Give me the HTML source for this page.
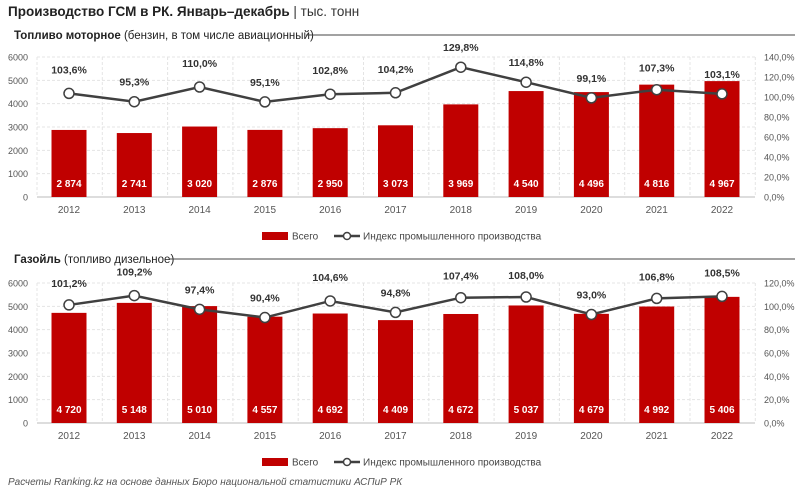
<!DOCTYPE html>
<html><head><meta charset="utf-8"><style>
body{margin:0;background:#fff;font-family:"Liberation Sans",sans-serif}
svg text{font-family:"Liberation Sans",sans-serif}
</style></head><body>
<svg id="s" width="800" height="490" xmlns="http://www.w3.org/2000/svg">
<text x="8" y="16" font-size="13.5" font-weight="bold" fill="#222">Производство ГСМ в РК. Январь–декабрь <tspan font-weight="normal" fill="#333">| тыс. тонн</tspan></text>
<text x="14" y="39" font-size="11.5" fill="#222"><tspan font-weight="bold">Топливо моторное</tspan> (бензин, в том числе авиационный)</text>
<line x1="306" y1="35" x2="795" y2="35" stroke="#444" stroke-width="1"/>
<text x="14" y="263" font-size="11.5" fill="#222"><tspan font-weight="bold">Газойль</tspan> (топливо дизельное)</text>
<line x1="170" y1="259" x2="795" y2="259" stroke="#444" stroke-width="1"/>
<text x="8" y="485" font-size="10" font-style="italic" fill="#555">Расчеты Ranking.kz на основе данных Бюро национальной статистики АСПиР РК</text>
</svg>
<script>
var s=document.getElementById('s'),NS='http://www.w3.org/2000/svg';
function el(t,a,txt){var e=document.createElementNS(NS,t);for(var k in a)e.setAttribute(k,a[k]);if(txt!==undefined)e.textContent=txt;s.appendChild(e);return e;}
function chart(top,bars,pct,pl,pmax){
 var bot=top+140,L=37,R=755,step=65.3,x0=69;
 for(var i=0;i<=6;i++){var y=bot-i*140/6;
  el('line',{x1:L,x2:R,y1:y,y2:y,stroke:i?'#e4e4e4':'#bbb','stroke-dasharray':i?'3,2':''});
  el('text',{x:28,y:y+3.5,'font-size':9,'text-anchor':'end',fill:'#555'},String(i*1000));}
 var n=pmax/20;
 for(var i=0;i<=n;i++){var y=bot-i*140/n;
  el('text',{x:764,y:y+3.5,'font-size':9,fill:'#555'},(i*20).toFixed(1).replace('.',',')+'%');}
 for(var i=0;i<=11;i++){var x=L+i*step;el('line',{x1:x,x2:x,y1:top,y2:bot,stroke:'#e4e4e4','stroke-dasharray':'3,2'});}
 var pts=[];
 bars.forEach(function(v,i){var cx=x0+i*step,h=v/6000*140;
  el('rect',{x:cx-17.5,y:bot-h,width:35,height:h,fill:'#c00000'});
  el('text',{x:cx,y:bot-10,'font-size':10,'font-weight':'bold','text-anchor':'middle',fill:'#fff'},String(v).replace(/(\d)(\d{3})$/,'$1 $2'));
  el('text',{x:cx,y:bot+16,'font-size':10,'text-anchor':'middle',fill:'#555'},2012+i);
  pts.push([cx,bot-pct[i]/pmax*140]);});
 el('polyline',{points:pts.map(function(p){return p.join(',')}).join(' '),fill:'none',stroke:'#404040','stroke-width':2.5});
 pts.forEach(function(p,i){el('circle',{cx:p[0],cy:p[1],r:5,fill:'#fff',stroke:'#404040','stroke-width':1.5});
  el('text',{x:p[0],y:p[1]-16+(pl[i]||0),'font-size':10.5,'font-weight':'bold','text-anchor':'middle',fill:'#333'},pct[i].toFixed(1).replace('.',',')+'%');});
 var ly=bot+39;
 el('rect',{x:262,y:ly-4,width:26,height:8,fill:'#c00000'});
 el('text',{x:292,y:ly+3.5,'font-size':10,fill:'#444'},'Всего');
 el('line',{x1:334,x2:360,y1:ly,y2:ly,stroke:'#404040','stroke-width':2.5});
 el('circle',{cx:347,cy:ly,r:3.5,fill:'#fff',stroke:'#404040','stroke-width':1.5});
 el('text',{x:363,y:ly+3.5,'font-size':10,fill:'#444'},'Индекс промышленного производства');
}
chart(57,[2874,2741,3020,2876,2950,3073,3969,4540,4496,4816,4967],[103.6,95.3,110.0,95.1,102.8,104.2,129.8,114.8,99.1,107.3,103.1],[-4,0,-4,0,-4,-4,0,0,0,-2,0],140);
chart(283,[4720,5148,5010,4557,4692,4409,4672,5037,4679,4992,5406],[101.2,109.2,97.4,90.4,104.6,94.8,107.4,108.0,93.0,106.8,108.5],[-2,-4,0,0,-4,0,-2,-2,0,-2,-4],120);
</script>
</body></html>
